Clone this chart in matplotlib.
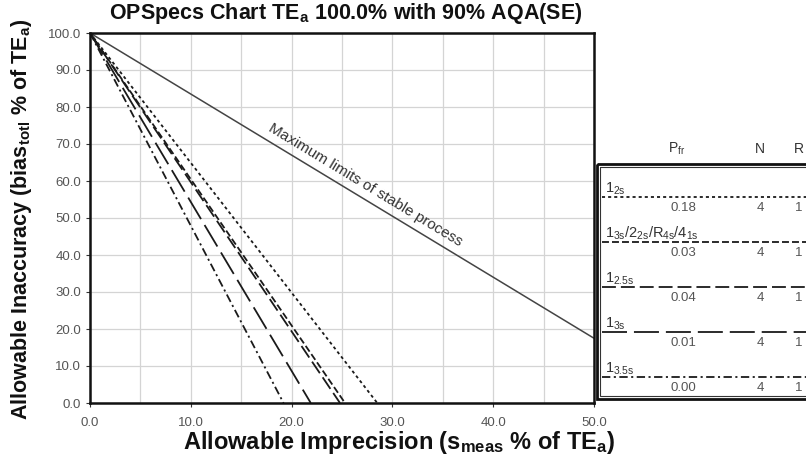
import matplotlib
matplotlib.use("Agg")
import matplotlib.pyplot as plt
from matplotlib.patches import Rectangle

plt.rcParams['font.family'] = ['Liberation Sans', 'DejaVu Sans']
plt.rcParams['mathtext.fontset'] = 'custom'
plt.rcParams['mathtext.rm'] = 'Liberation Sans'
plt.rcParams['mathtext.it'] = 'Liberation Sans'
plt.rcParams['mathtext.bf'] = 'Liberation Sans:bold'
plt.rcParams['lines.scale_dashes'] = False

# ---- data -------------------------------------------------------------
rule_labels = [r"$1_{2s}$", r"$1_{3s}/2_{2s}/R_{4s}/4_{1s}$",
               r"$1_{2.5s}$", r"$1_{3s}$", r"$1_{3.5s}$"]
p_fr = ["0.18", "0.03", "0.04", "0.01", "0.00"]
n_controls = ["4", "4", "4", "4", "4"]
n_runs = ["1", "1", "1", "1", "1"]

# operating lines: allowable bias at zero imprecision, and imprecision at zero bias
bias_at_zero_s = [100.0, 100.0, 100.0, 100.0, 100.0]
s_at_zero_bias = [28.5, 25.3, 24.8, 21.9, 19.2]

# maximum limits of a stable process
stable_s = [0.0, 50.0]
stable_bias = [100.0, 17.5]

x_ticks = [0, 10, 20, 30, 40, 50]
y_ticks = [0, 10, 20, 30, 40, 50, 60, 70, 80, 90, 100]

line_styles = [(0, (2.2, 2.2)), (0, (5, 2.2)), (0, (10, 3.6)),
               (0, (18, 5)), (0, (6, 2.5, 1.5, 2.5))]
ink = '#1a1a1a'
tick_grey = '#555555'

# ---- figure -----------------------------------------------------------
W, H = 806, 466
fig = plt.figure(figsize=(W / 100, H / 100), dpi=100)
fig.patch.set_facecolor('white')

ax = fig.add_axes([90 / W, 63 / H, 504 / W, 370 / H])
ax.set_xlim(0, 50)
ax.set_ylim(0, 100)

ax.set_xticks(x_ticks)
ax.set_xticklabels([f"{v:.1f}" for v in x_ticks])
ax.set_xticks([5, 15, 25, 35, 45], minor=True)
ax.set_yticks(y_ticks)
ax.set_yticklabels([f"{v:.1f}" for v in y_ticks])
ax.tick_params(axis='both', which='major', labelsize=9.5, labelcolor=tick_grey,
               length=3, width=0.8, color='#333333')
ax.tick_params(axis='x', which='major', pad=7)
ax.tick_params(axis='x', which='minor', length=0)
ax.grid(which='both', axis='x', color='#d4d4d4', lw=0.9)
ax.grid(which='major', axis='y', color='#d4d4d4', lw=0.9)
ax.set_axisbelow(True)
for sp in ax.spines.values():
    sp.set_linewidth(1.8)
    sp.set_color('#111111')

# maximum limits of stable process
ax.plot(stable_s, stable_bias, color='#444444', lw=1.1, solid_capstyle='butt')
ax.text(27.3, 59.0, "Maximum limits of stable process", rotation=-31.2,
        rotation_mode='anchor', ha='center', va='center', fontsize=11,
        color='#333333')

# operating lines for each QC procedure
for b0, s0, ls in zip(bias_at_zero_s, s_at_zero_bias, line_styles):
    ax.plot([0, s0], [b0, 0], color=ink, lw=1.3, linestyle=ls,
            dash_capstyle='butt')

# titles
fig.text(346 / W, 1 - 14 / H, r"OPSpecs Chart TE$_\mathbf{a}$ 100.0% with 90% AQA(SE)",
         ha='center', va='center', fontsize=15.5, fontweight='bold', color='#111111')
fig.text(22 / W, 1 - 219 / H,
         r"Allowable Inaccuracy (bias$_\mathbf{totl}$ % of TE$_\mathbf{a}$)",
         rotation=90, ha='center', va='center', fontsize=15.5, fontweight='bold',
         color='#111111')
fig.text(399 / W, 1 - 443 / H,
         r"Allowable Imprecision (s$_\mathbf{meas}$ % of TE$_\mathbf{a}$)",
         ha='center', va='center', fontsize=17, fontweight='bold', color='#111111')

# ---- key panel ----------------------------------------------------------
lax = fig.add_axes([597 / W, (H - 399) / H, 240 / W, 235 / H])
lax.set_xlim(0, 240)
lax.set_ylim(235, 0)
lax.axis('off')
lax.add_patch(Rectangle((0, 0), 240, 235, fill=False, lw=2.0, ec='#111111',
                        clip_on=False))
lax.add_patch(Rectangle((3, 3), 234, 229, fill=False, lw=0.8, ec='#333333',
                        clip_on=False))

col_pfr, col_n, col_r = 86, 163, 202
for x, txt in [(col_pfr - 6, r"P$_{fr}$"), (col_n, "N"), (col_r, "R")]:
    lax.text(x, -15, txt, ha='center', va='center', fontsize=10,
             color='#333333', clip_on=False)

row0, row_step = 33, 45
for i, (lab, pf, nc, nr, ls) in enumerate(zip(rule_labels, p_fr, n_controls,
                                              n_runs, line_styles)):
    y = row0 + i * row_step
    lax.plot([5, 240], [y, y], color=ink, lw=1.3, linestyle=ls,
             dash_capstyle='butt')
    lax.text(8, y, lab, ha='left', va='bottom', fontsize=10.5, color='#333333')
    lax.text(col_pfr, y + 11, pf, ha='center', va='center', fontsize=9.5,
             color=tick_grey)
    lax.text(col_n, y + 11, nc, ha='center', va='center', fontsize=9.5,
             color=tick_grey)
    lax.text(col_r, y + 11, nr, ha='center', va='center', fontsize=9.5,
             color=tick_grey)

fig.savefig("out.png", dpi=100)
